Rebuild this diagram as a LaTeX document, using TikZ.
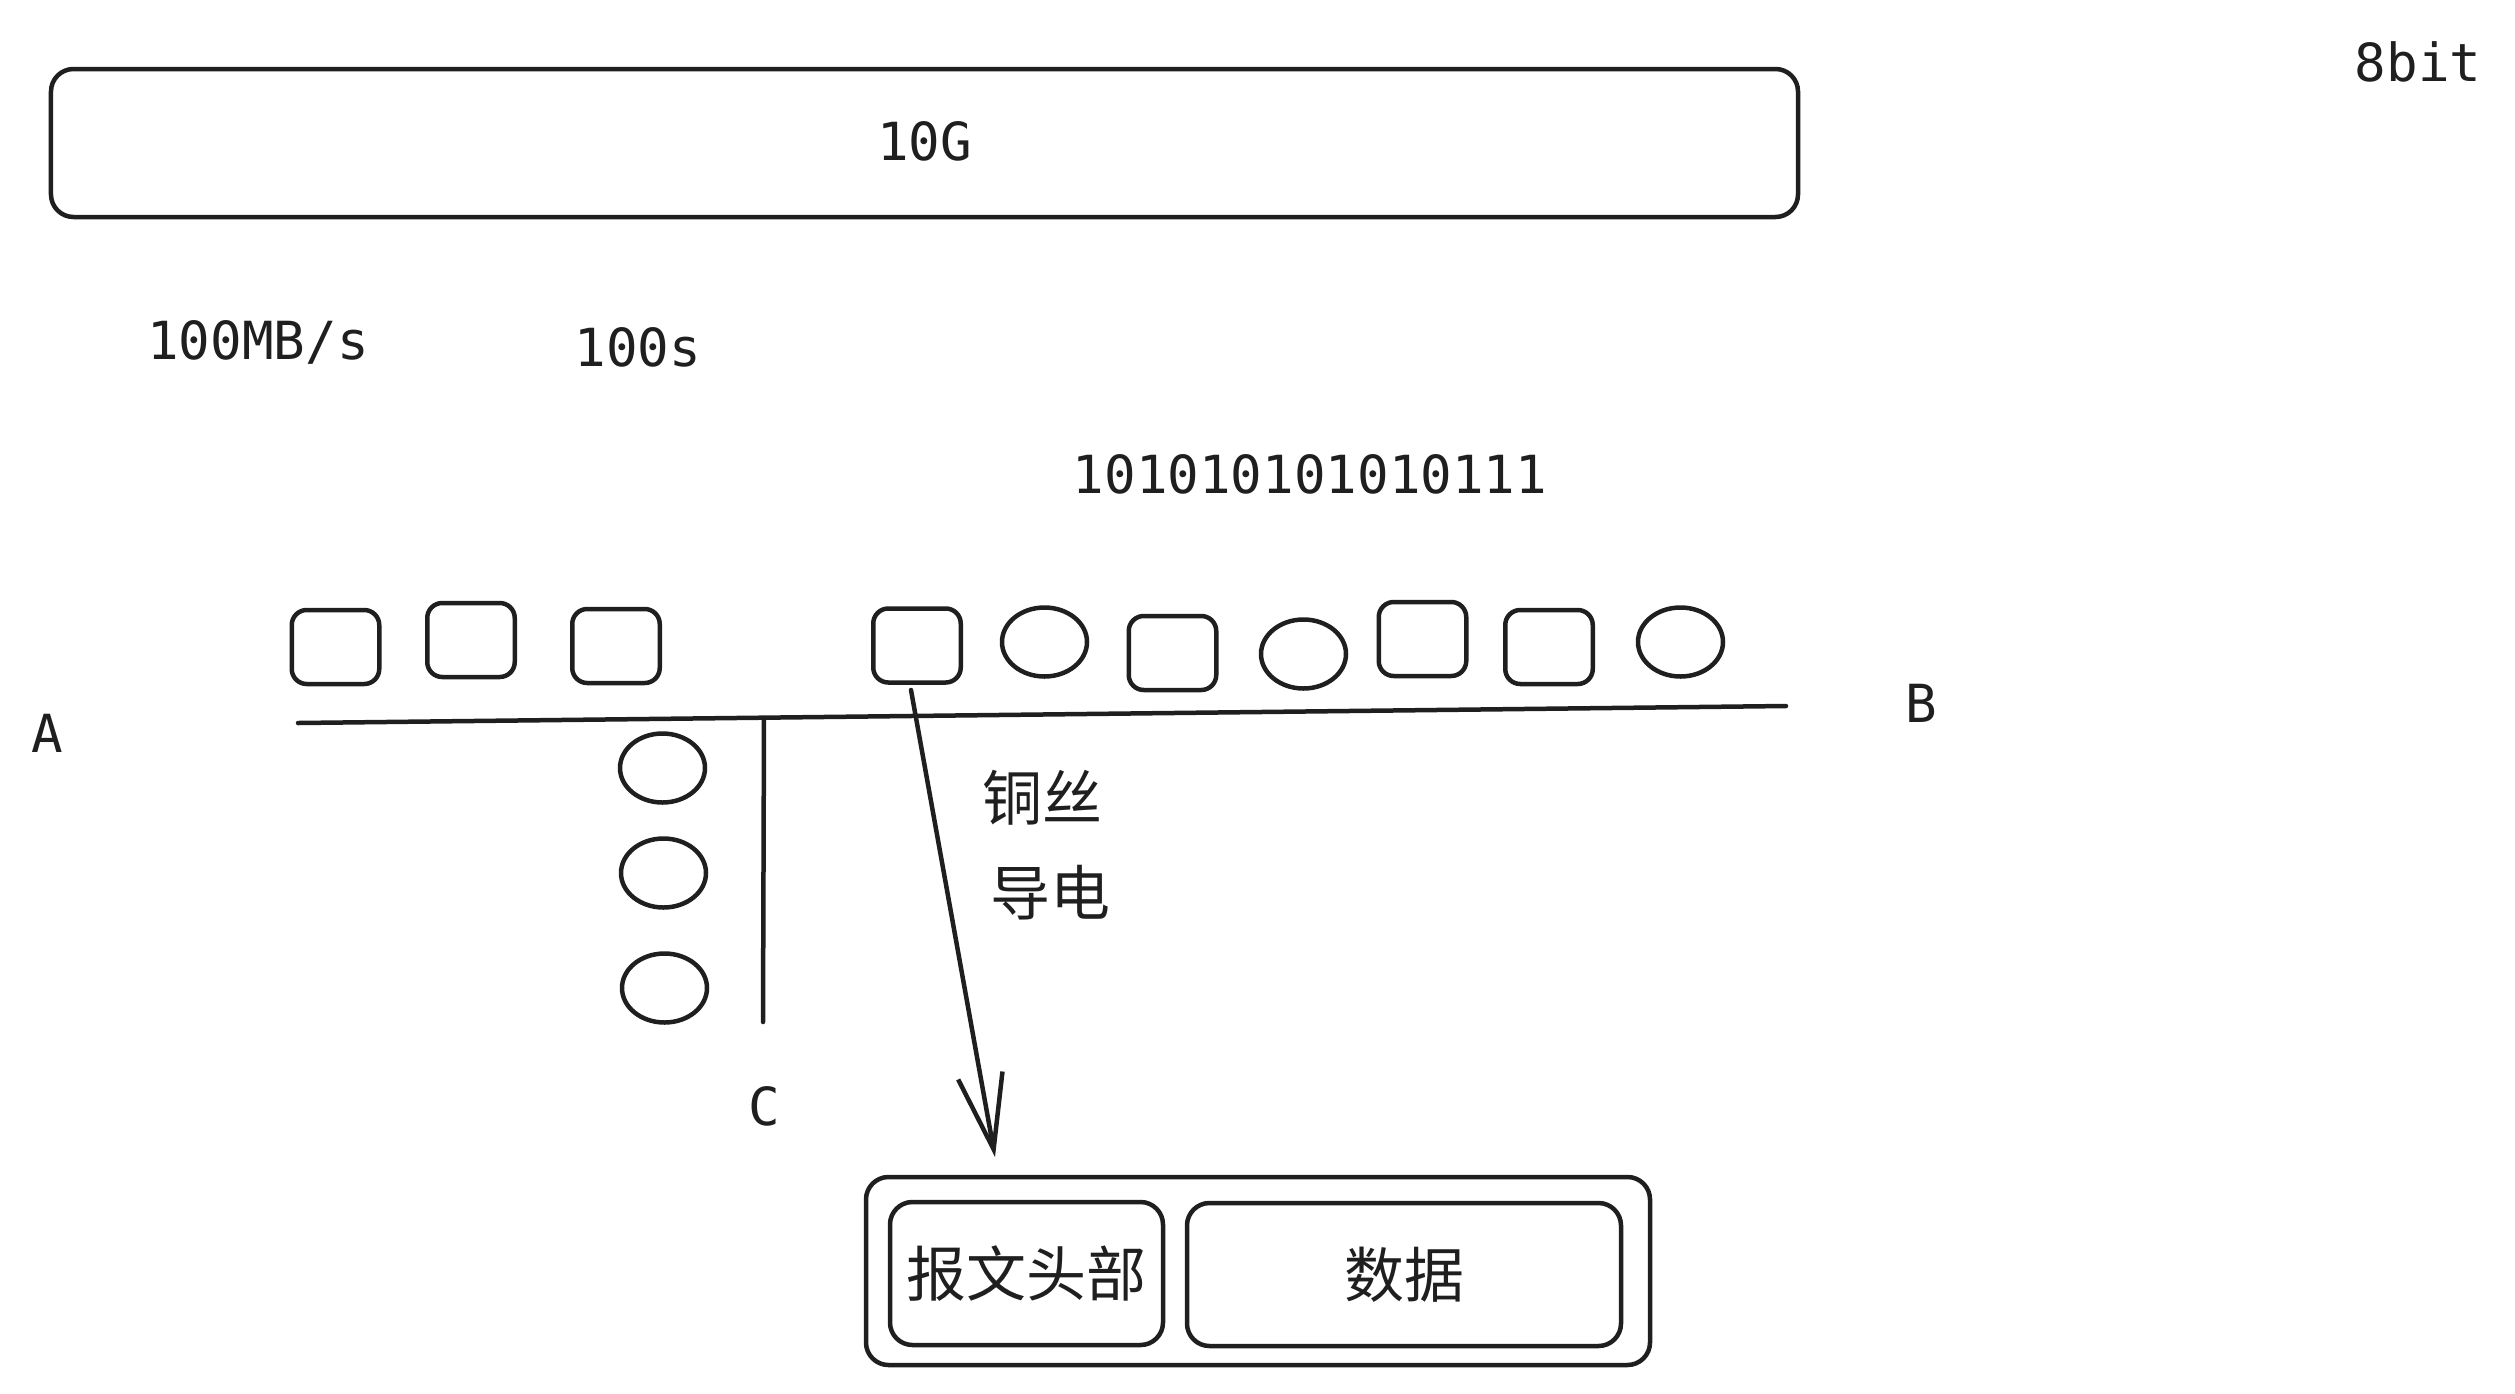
\documentclass[tikz,border=0pt]{standalone}
\usepackage{fontspec}
\setmainfont{DejaVu Sans Mono}
\newfontfamily\cjk{Noto Sans CJK SC}
\usetikzlibrary{arrows.meta,shapes.geometric}
\begin{document}
\begin{tikzpicture}[x=0.4pt,y=-0.4pt,
  every node/.style={inner sep=0pt, outer sep=0pt},
  lbl/.style={font=\fontsize{21pt}{24pt}\selectfont, text=black!88},
  cjklbl/.style={font=\cjk\fontsize{24pt}{28pt}\selectfont, text=black!88},
  ln/.style={draw=black!88, line width=1.8pt, line cap=round, line join=round},
  sq/.style={ln, rounded corners=6pt, minimum width=35pt, minimum height=29.6pt},
  ov/.style={ln, ellipse, minimum width=34pt, minimum height=27.6pt},
  bigbox/.style={ln, rounded corners=9pt},
]
\useasboundingbox (0,0) rectangle (2515,1394);

% top bar
\node[bigbox, minimum width=698.8pt, minimum height=59.2pt, lbl] (bar) at (924.5,143) {\raisebox{1.2pt}{10G}};
\node[lbl] (bits) at (2418,62) {8bit};
\node[lbl] (rate) at (258,342) {100MB/s};
\node[lbl] (time) at (638,347) {100s};
\node[lbl] (stream) at (1310,474) {101010101010111};

% signals on the wire
\node[sq] (s1) at (335.5,647) {};
\node[sq] (s2) at (471,640) {};
\node[sq] (s3) at (616,646) {};
\node[sq] (s4) at (917,645.5) {};
\node[ov] (s5) at (1044.5,642) {};
\node[sq] (s6) at (1172.5,653) {};
\node[ov] (s7) at (1303.5,654) {};
\node[sq] (s8) at (1422.5,639) {};
\node[sq] (s9) at (1549,647) {};
\node[ov] (s10) at (1680.5,642) {};

% column of signals
\node[ov] (c1) at (662.5,768) {};
\node[ov] (c2) at (663.5,873) {};
\node[ov] (c3) at (664.5,988) {};

% wires
\coordinate (wA) at (298,723);
\coordinate (wB) at (1786,706);
\coordinate (wJ) at (764,718);
\coordinate (wC) at (763,1022);
\draw[ln] (wA) -- (wB);
\draw[ln] (wJ) -- (wC);

\node[lbl] (A) at (47,733) {A};
\node[lbl] (B) at (1921,703) {B};
\node[lbl] (C) at (764,1106) {C};

% packet
\node[bigbox, minimum width=313.6pt, minimum height=75.2pt] (pkt) at (1258,1271) {};
\node[bigbox, minimum width=109.2pt, minimum height=57.2pt, cjklbl] (hdr) at (1026.5,1273.5) {\raisebox{2pt}{报文头部}};
\node[bigbox, minimum width=173.6pt, minimum height=57.2pt, cjklbl] (data) at (1404,1274.5) {\raisebox{2pt}{数据}};

% arrow
\coordinate (aS) at (911,690);
\coordinate (aE) at (995,1157);
\draw[ln, -{Straight Barb[length=30pt,width=18pt]}] (aS) -- (aE);

\node[cjklbl] (cu) at (1042,798) {铜丝};
\node[cjklbl] (cond) at (1050,893) {导电};
\end{tikzpicture}
\end{document}
